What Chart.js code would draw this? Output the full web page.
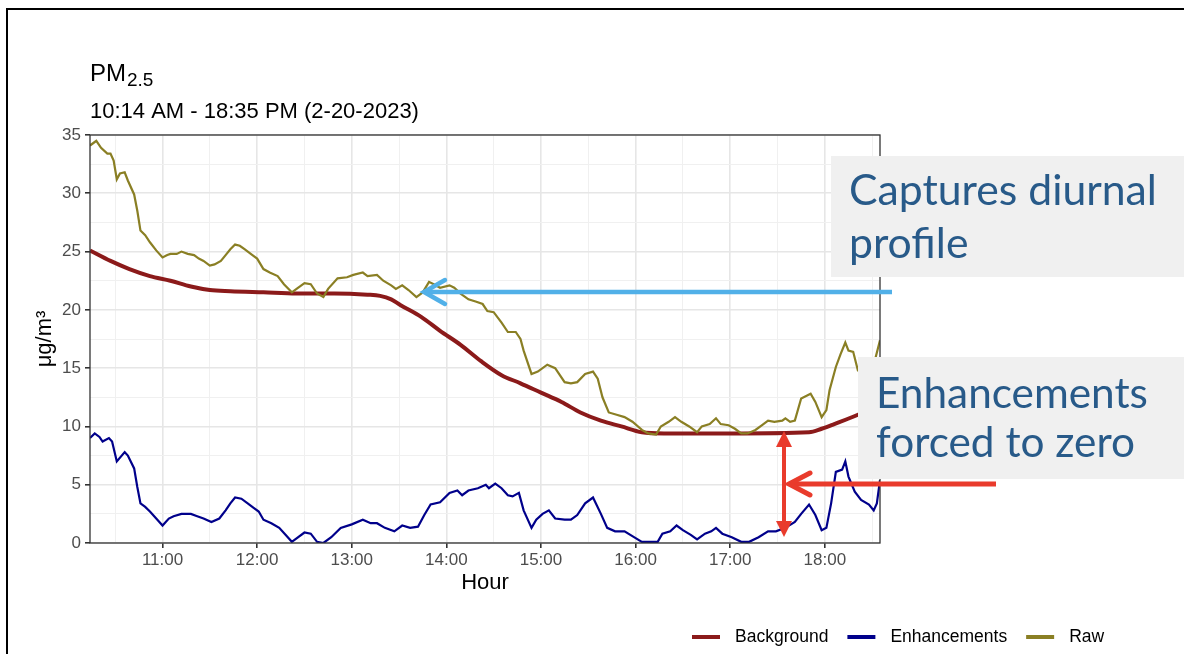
<!DOCTYPE html>
<html>
<head>
<meta charset="utf-8">
<title>PM2.5 10:14 AM - 18:35 PM (2-20-2023)</title>
<script src="https://cdn.jsdelivr.net/npm/chart.js@4"></script>
<style>
    html, body { margin: 0; padding: 0; background: #fff; }
    #wrap { position: relative; width: 1184px; height: 654px; overflow: hidden; }
</style>
</head>
<body>
<div id="wrap"><canvas id="pmChart" width="1184" height="654"></canvas></div>
<script>
// Axis range and tick labels
const startTime = '10:14';
const endTime = '18:35';
const hourLabels = ['11:00', '12:00', '13:00', '14:00', '15:00', '16:00', '17:00', '18:00'];
const yTickLabels = [0, 5, 10, 15, 20, 25, 30, 35];

// Raw PM2.5
const rawTimes = [
    '10:14', '10:17', '10:18', '10:21', '10:25', '10:27', '10:29', '10:31', '10:33', '10:36', '10:38', '10:42',
    '10:44', '10:46', '10:49', '10:52', '10:56', '11:00', '11:03', '11:05', '11:09', '11:12', '11:16', '11:20',
    '11:23', '11:26', '11:30', '11:33', '11:37', '11:40', '11:43', '11:46', '11:49', '11:52', '11:57', '12:00',
    '12:04', '12:08', '12:13', '12:17', '12:22', '12:25', '12:30', '12:34', '12:38', '12:42', '12:45', '12:51',
    '12:57', '13:01', '13:07', '13:10', '13:16', '13:20', '13:25', '13:28', '13:32', '13:36', '13:41', '13:45',
    '13:49', '13:52', '13:56', '14:02', '14:05', '14:09', '14:14', '14:19', '14:23', '14:26', '14:30', '14:35',
    '14:39', '14:44', '14:47', '14:49', '14:54', '14:58', '15:04', '15:09', '15:15', '15:19', '15:23', '15:28',
    '15:33', '15:36', '15:39', '15:43', '15:48', '15:53', '15:58', '16:04', '16:08', '16:13', '16:16', '16:21',
    '16:25', '16:29', '16:34', '16:39', '16:42', '16:47', '16:51', '16:54', '16:59', '17:03', '17:07', '17:11',
    '17:16', '17:20', '17:24', '17:28', '17:33', '17:35', '17:38', '17:41', '17:45', '17:51', '17:54', '17:58',
    '18:01', '18:03', '18:07', '18:10', '18:13', '18:15', '18:18', '18:21', '18:24', '18:28', '18:32', '18:35'
];
const rawValues = [
    34.1, 34.4, 34.5, 33.9, 33.4, 33.4, 32.8, 31.2, 31.7, 31.8, 31.1, 29.9,
    28.5, 26.8, 26.4, 25.8, 25.1, 24.5, 24.7, 24.8, 24.8, 25.0, 24.8, 24.7,
    24.4, 24.2, 23.8, 23.9, 24.2, 24.7, 25.2, 25.6, 25.5, 25.2, 24.7, 24.4,
    23.5, 23.2, 22.9, 22.2, 21.5, 21.8, 22.3, 22.2, 21.4, 21.1, 21.8, 22.7,
    22.8, 23.0, 23.2, 22.9, 23.0, 22.5, 22.1, 21.8, 22.1, 21.7, 21.1, 21.5,
    22.4, 22.2, 21.9, 22.1, 21.9, 21.4, 20.9, 20.7, 20.5, 19.9, 19.8, 18.9,
    18.1, 18.1, 17.5, 16.5, 14.5, 14.7, 15.3, 15.0, 13.8, 13.7, 13.8, 14.5,
    14.7, 14.1, 12.5, 11.2, 11.0, 10.8, 10.4, 9.7, 9.4, 9.3, 10.0, 10.4,
    10.8, 10.4, 10.0, 9.5, 10.0, 10.2, 10.7, 10.2, 10.1, 9.8, 9.4, 9.4,
    9.7, 10.1, 10.5, 10.4, 10.5, 10.7, 10.4, 10.5, 12.4, 12.8, 12.1, 10.8,
    11.4, 13.1, 15.1, 16.2, 17.2, 16.5, 16.4, 14.8, 14.6, 15.0, 15.8, 17.4
];

// Smooth background
const backgroundTimes = [
    '10:14', '10:27', '10:39', '10:52', '11:05', '11:18', '11:30', '11:43', '12:04', '12:25', '12:49', '13:10',
    '13:18', '13:25', '13:31', '13:44', '13:56', '14:09', '14:22', '14:35', '14:47', '15:00', '15:13', '15:25',
    '15:38', '15:51', '16:04', '16:18', '17:00', '17:50', '17:58', '18:06', '18:21', '18:35'
];
const backgroundValues = [
    25.1, 24.2, 23.5, 22.9, 22.5, 22.0, 21.7, 21.6, 21.5, 21.4, 21.4, 21.3,
    21.2, 20.9, 20.4, 19.4, 18.2, 17.0, 15.6, 14.4, 13.7, 12.9, 12.1, 11.2,
    10.5, 10.0, 9.5, 9.4, 9.4, 9.5, 9.8, 10.2, 11.0, 11.9
];

// Enhancements above background
const enhancementTimes = [
    '10:14', '10:17', '10:20', '10:22', '10:26', '10:28', '10:31', '10:36', '10:38', '10:42', '10:44', '10:46',
    '10:49', '10:52', '10:56', '11:00', '11:04', '11:07', '11:12', '11:18', '11:22', '11:26', '11:31', '11:36',
    '11:40', '11:43', '11:46', '11:50', '11:54', '11:58', '12:01', '12:04', '12:09', '12:14', '12:18', '12:22',
    '12:25', '12:30', '12:34', '12:38', '12:42', '12:47', '12:53', '13:00', '13:07', '13:12', '13:16', '13:21',
    '13:27', '13:32', '13:37', '13:42', '13:46', '13:50', '13:56', '14:02', '14:07', '14:10', '14:14', '14:20',
    '14:25', '14:27', '14:31', '14:35', '14:39', '14:42', '14:46', '14:49', '14:54', '14:57', '15:01', '15:05',
    '15:09', '15:15', '15:19', '15:23', '15:28', '15:33', '15:38', '15:42', '15:47', '15:53', '15:59', '16:04',
    '16:14', '16:17', '16:22', '16:26', '16:30', '16:35', '16:39', '16:44', '16:48', '16:51', '16:55', '17:01',
    '17:07', '17:12', '17:18', '17:24', '17:29', '17:35', '17:41', '17:45', '17:50', '17:54', '17:58', '18:01',
    '18:04', '18:07', '18:11', '18:13', '18:15', '18:19', '18:23', '18:28', '18:31', '18:33', '18:35'
];
const enhancementValues = [
    9.0, 9.4, 9.1, 8.7, 9.0, 8.7, 7.0, 7.8, 7.5, 6.4, 4.8, 3.4,
    3.1, 2.7, 2.1, 1.5, 2.1, 2.3, 2.5, 2.5, 2.3, 2.1, 1.8, 2.1,
    2.8, 3.4, 3.9, 3.8, 3.4, 3.0, 2.7, 2.0, 1.7, 1.3, 0.7, 0.1,
    0.4, 0.9, 0.8, 0.1, 0.0, 0.5, 1.3, 1.6, 2.0, 1.7, 1.7, 1.3,
    1.0, 1.5, 1.3, 1.4, 2.4, 3.3, 3.5, 4.3, 4.5, 4.1, 4.5, 4.7,
    5.0, 4.7, 5.1, 4.7, 4.1, 4.0, 4.3, 2.8, 1.3, 2.0, 2.5, 2.8,
    2.1, 2.0, 2.0, 2.4, 3.4, 3.9, 2.5, 1.3, 1.0, 1.0, 0.5, 0.1,
    0.1, 0.8, 1.0, 1.5, 1.1, 0.7, 0.3, 0.8, 1.0, 1.3, 0.8, 0.5,
    0.1, 0.1, 0.5, 1.0, 1.0, 1.3, 1.8, 2.5, 3.3, 2.4, 1.1, 1.3,
    3.4, 6.1, 6.3, 7.0, 5.7, 4.4, 3.7, 3.3, 2.8, 3.4, 5.4
];

// Callout texts
const calloutTop = ['Captures diurnal', 'profile'];
const calloutBottom = ['Enhancements', 'forced to zero'];

const FONT = '"Liberation Sans", Arial, sans-serif';

// "HH:MM" -> minutes after midnight
function toMinutes(hhmm) {
    const [h, m] = hhmm.split(':').map(Number);
    return h * 60 + m;
}

function toPoints(times, values) {
    return times.map((t, i) => ({ x: toMinutes(t), y: values[i] }));
}

function minutesToLabel(v) {
    const h = Math.floor(v / 60);
    const m = v % 60;
    return `${h}:${m < 10 ? '0' : ''}${m}`;
}

// Major and minor (half-way) ticks, like ggplot
const xMajor = hourLabels.map(toMinutes);
const xMinor = xMajor.map(v => v - 30).concat([xMajor[xMajor.length - 1] + 30]);
const xTicks = xMajor.concat(xMinor).sort((a, b) => a - b);
const yMinor = yTickLabels.slice(1).map(v => v - 2.5);
const yTicks = yTickLabels.concat(yMinor).sort((a, b) => a - b);

function gridColor(majors) {
    return ctx => (ctx.tick && majors.includes(ctx.tick.value)) ? '#e6e6e6' : '#f0f0f0';
}
function gridWidth(majors) {
    return ctx => (ctx.tick && majors.includes(ctx.tick.value)) ? 1.6 : 1;
}
function tickColor(majors) {
    return ctx => (ctx.tick && majors.includes(ctx.tick.value)) ? '#333333' : 'rgba(0,0,0,0)';
}

// Draw an arrow line with an open chevron head pointing left
function leftArrow(ctx, x1, x2, y, color, width, headLen, headHalf) {
    ctx.save();
    ctx.strokeStyle = color;
    ctx.lineWidth = width;
    ctx.lineCap = 'butt';
    ctx.beginPath();
    ctx.moveTo(x1, y);
    ctx.lineTo(x2 + 2, y);
    ctx.stroke();
    ctx.lineCap = 'round';
    ctx.lineJoin = 'miter';
    ctx.beginPath();
    ctx.moveTo(x2 + headLen, y - headHalf);
    ctx.lineTo(x2, y);
    ctx.lineTo(x2 + headLen, y + headHalf);
    ctx.stroke();
    ctx.restore();
}

function fitFont(ctx, text, width, family) {
    ctx.font = `100px ${family}`;
    return 100 * width / ctx.measureText(text).width;
}

// Panel border, titles, legend and callouts
const overlayPlugin = {
    id: 'overlay',
    afterDatasetsDraw(chart) {
        const { ctx, chartArea } = chart;
        ctx.save();
        ctx.strokeStyle = '#333333';
        ctx.lineWidth = 1.3;
        ctx.strokeRect(chartArea.left, chartArea.top, chartArea.right - chartArea.left, chartArea.bottom - chartArea.top);
        ctx.restore();
    },
    afterDraw(chart) {
        const { ctx, chartArea } = chart;
        ctx.save();

        // slide frame
        ctx.fillStyle = '#000';
        ctx.fillRect(6, 8, 1178, 2);
        ctx.fillRect(6, 8, 2, 646);

        // title with subscript
        ctx.fillStyle = '#000';
        ctx.textBaseline = 'alphabetic';
        ctx.textAlign = 'left';
        ctx.font = `24px ${FONT}`;
        ctx.fillText('PM', chartArea.left, 81);
        const pmWidth = ctx.measureText('PM').width;
        ctx.font = `19px ${FONT}`;
        ctx.fillText('2.5', chartArea.left + pmWidth + 1, 86);
        ctx.font = `22px ${FONT}`;
        ctx.fillText('10:14 AM - 18:35 PM (2-20-2023)', chartArea.left, 118);

        // legend
        ctx.font = `17.5px ${FONT}`;
        ctx.textBaseline = 'middle';
        let lx = 692;
        chart.data.datasets.forEach(ds => {
            ctx.strokeStyle = ds.borderColor;
            ctx.lineWidth = 4;
            ctx.beginPath();
            ctx.moveTo(lx, 637);
            ctx.lineTo(lx + 28, 637);
            ctx.stroke();
            ctx.fillStyle = '#000';
            ctx.fillText(ds.label, lx + 43, 637);
            lx += 43 + ctx.measureText(ds.label).width + 19;
        });

        // callout boxes
        const calloutFont = 'Lato, "Open Sans", sans-serif';
        ctx.textBaseline = 'alphabetic';
        ctx.fillStyle = '#f0f0f0';
        ctx.fillRect(831, 156, 1184 - 831, 121);
        ctx.fillRect(858, 357, 1184 - 858, 122);
        ctx.fillStyle = '#285a89';
        const sizeTop = fitFont(ctx, calloutTop[0], 308, calloutFont);
        ctx.font = `${sizeTop}px ${calloutFont}`;
        ctx.fillText(calloutTop[0], 849, 205);
        ctx.fillText(calloutTop[1], 849, 258);
        const sizeBottom = fitFont(ctx, calloutBottom[0], 272, calloutFont);
        ctx.font = `${sizeBottom}px ${calloutFont}`;
        ctx.fillText(calloutBottom[0], 876, 408);
        ctx.fillText(calloutBottom[1], 876, 457);

        // arrows
        leftArrow(ctx, 892, 424, 292, '#51b0e8', 4.5, 21, 12);
        leftArrow(ctx, 996, 789, 484, '#e93b2c', 5, 21, 11);

        // vertical double arrow
        ctx.strokeStyle = '#e93b2c';
        ctx.fillStyle = '#e93b2c';
        ctx.lineWidth = 4;
        ctx.beginPath();
        ctx.moveTo(784, 444);
        ctx.lineTo(784, 524);
        ctx.stroke();
        ctx.beginPath();
        ctx.moveTo(784, 431);
        ctx.lineTo(792, 447);
        ctx.lineTo(776, 447);
        ctx.closePath();
        ctx.fill();
        ctx.beginPath();
        ctx.moveTo(784, 537);
        ctx.lineTo(792, 521);
        ctx.lineTo(776, 521);
        ctx.closePath();
        ctx.fill();

        ctx.restore();
    }
};

// Build chart
const ctx = document.getElementById('pmChart').getContext('2d');
new Chart(ctx, {
    type: 'line',
    data: {
        datasets: [{
            label: 'Background',
            data: toPoints(backgroundTimes, backgroundValues),
            borderColor: '#8b1a1a',
            borderWidth: 4,
            cubicInterpolationMode: 'monotone',
            pointRadius: 0,
            order: 2
        }, {
            label: 'Enhancements',
            data: toPoints(enhancementTimes, enhancementValues),
            borderColor: '#00008b',
            borderWidth: 2.2,
            tension: 0,
            pointRadius: 0,
            order: 1
        }, {
            label: 'Raw',
            data: toPoints(rawTimes, rawValues),
            borderColor: '#8a7f24',
            borderWidth: 2.2,
            tension: 0,
            pointRadius: 0,
            order: 0
        }]
    },
    options: {
        responsive: false,
        animation: false,
        layout: {
            padding: { left: 30, top: 135, right: 304, bottom: 51 }
        },
        plugins: {
            legend: { display: false },
            tooltip: { enabled: false }
        },
        scales: {
            x: {
                type: 'linear',
                min: toMinutes(startTime),
                max: toMinutes(endTime),
                afterBuildTicks: scale => { scale.ticks = xTicks.map(v => ({ value: v })); },
                afterFit: scale => { scale.height = 60; },
                ticks: {
                    autoSkip: false,
                    maxRotation: 0,
                    padding: 2,
                    color: '#4d4d4d',
                    font: { family: FONT, size: 17 },
                    callback: value => xMajor.includes(value) ? minutesToLabel(value) : ''
                },
                grid: {
                    color: gridColor(xMajor),
                    lineWidth: gridWidth(xMajor),
                    tickColor: tickColor(xMajor),
                    tickLength: 5
                },
                border: { display: false },
                title: {
                    display: true,
                    text: 'Hour',
                    color: '#000',
                    font: { family: FONT, size: 22 },
                    padding: { top: 0, bottom: 7 }
                }
            },
            y: {
                min: 0,
                max: 35,
                afterBuildTicks: scale => { scale.ticks = yTicks.map(v => ({ value: v })); },
                afterFit: scale => { scale.width = 60; },
                ticks: {
                    padding: 4,
                    color: '#4d4d4d',
                    font: { family: FONT, size: 17 },
                    callback: value => yTickLabels.includes(value) ? String(value) : ''
                },
                grid: {
                    color: gridColor(yTickLabels),
                    lineWidth: gridWidth(yTickLabels),
                    tickColor: tickColor(yTickLabels),
                    tickLength: 5
                },
                border: { display: false },
                title: {
                    display: true,
                    text: 'μg/m³',
                    color: '#000',
                    font: { family: FONT, size: 22 },
                    padding: { top: 2, bottom: 0 }
                }
            }
        }
    },
    plugins: [overlayPlugin]
});
</script>
</body>
</html>
